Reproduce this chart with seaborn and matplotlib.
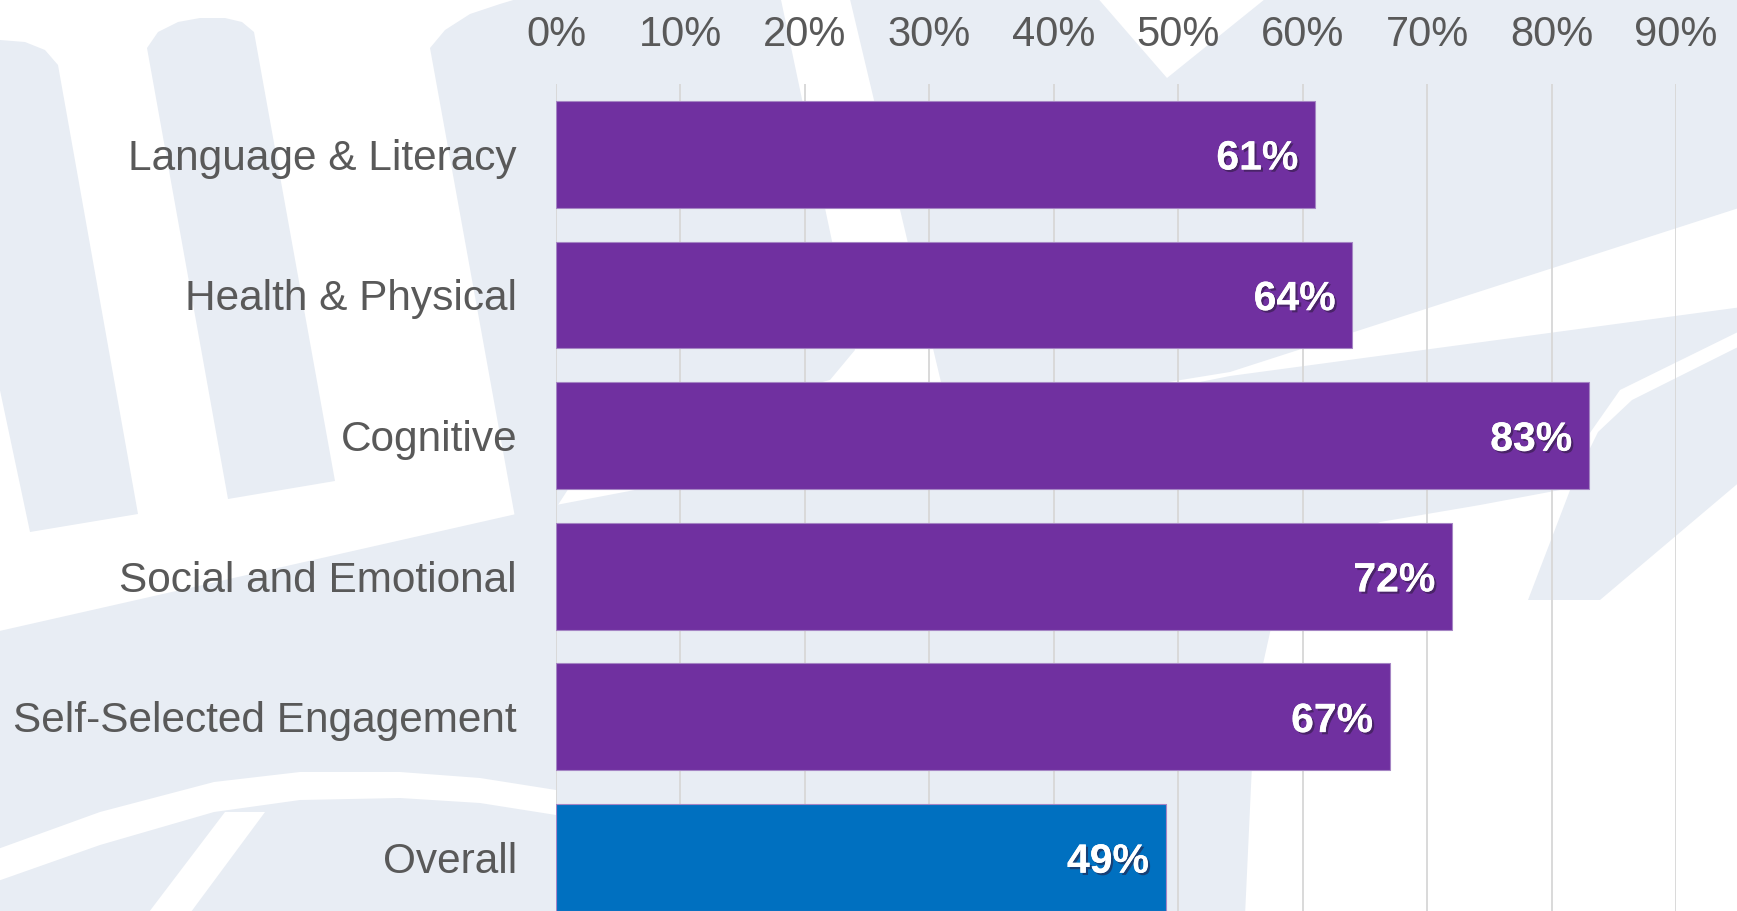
import matplotlib
matplotlib.use("Agg")
import matplotlib.pyplot as plt
import matplotlib.patheffects as pe
from matplotlib.patches import Polygon
from matplotlib.ticker import PercentFormatter, FixedLocator
import pandas as pd
import seaborn as sns

# ---- data -------------------------------------------------------------
categories = [
    "Language & Literacy",
    "Health & Physical",
    "Cognitive",
    "Social and Emotional",
    "Self-Selected Engagement",
    "Overall",
]
shares = [0.61, 0.64, 0.83, 0.72, 0.67, 0.49]
bar_colors = ["#7030A0", "#7030A0", "#7030A0", "#7030A0", "#7030A0", "#0070C0"]
x_ticks = [0.0, 0.1, 0.2, 0.3, 0.4, 0.5, 0.6, 0.7, 0.8, 0.9]

df = pd.DataFrame({"domain": categories, "share": shares})

# ---- style ------------------------------------------------------------
sns.set_theme(style="white")
plt.rcParams["font.family"] = ["Liberation Sans", "DejaVu Sans"]
TEXT = "#595959"
GRID = "#D9D9D9"
WASH = "#E8EDF4"

W, H = 1737, 911
fig = plt.figure(figsize=(W / 100, H / 100), dpi=100)
fig.patch.set_facecolor("white")


def to_fig(pts):
    return [(x / W, 1 - y / H) for x, y in pts]


def wash(pts, color=WASH, z=-2):
    fig.add_artist(Polygon(to_fig(pts), closed=True, facecolor=color,
                           edgecolor="none", transform=fig.transFigure,
                           zorder=z))


# faint logo watermark behind the chart
wash([(-70, 60), (-30, 45), (0, 40), (25, 42), (45, 50), (58, 65),
      (138, 514), (30, 532)])
wash([(147, 48), (158, 32), (178, 22), (200, 18), (225, 18), (242, 22),
      (254, 32), (335, 481), (228, 499)])
wash([(430, 48), (445, 30), (470, 14), (500, 4), (530, -5), (780, -5),
      (855, 350), (830, 380), (600, 440), (556, 508), (520, 545)])
wash([(849, -5), (1095, -5), (1167, 78), (1270, -5), (1742, -5),
      (1742, 207), (1230, 372), (1150, 385), (950, 420)])
wash([(-5, 632), (556, 505), (1150, 392), (1230, 376), (1742, 307),
      (1742, 330), (1620, 390), (1585, 440), (1560, 490), (1480, 505),
      (1380, 522), (1320, 550), (1275, 610), (1255, 700), (1245, 916),
      (-5, 916)])
wash([(1742, 345), (1742, 480), (1600, 600), (1528, 600), (1572, 485),
      (1598, 432), (1632, 400)])
# white strokes cutting through the lower-left of the watermark
wash([(-5, 850), (100, 812), (214, 782), (300, 772), (400, 772), (480, 778),
      (556, 790), (556, 815), (480, 803), (400, 798), (300, 800),
      (214, 812), (100, 845), (-5, 882)], color="white", z=-1)
wash([(225, 812), (265, 812), (188, 916), (146, 916)], color="white", z=-1)

# ---- chart ------------------------------------------------------------
ax = fig.add_axes([556 / W, 0.0, (1676 - 556) / W, 1 - 84 / H])
ax.set_facecolor("none")

sns.barplot(data=df, x="share", y="domain", hue="domain",
            palette=bar_colors, orient="h", width=0.76, legend=False,
            saturation=1, ax=ax, edgecolor="#A585C4", linewidth=0.8)

ax.set_xlim(0, 0.9)
ax.set_ylim(5.38, -0.5)
ax.xaxis.set_major_locator(FixedLocator(x_ticks))
ax.xaxis.set_major_formatter(PercentFormatter(1.0, decimals=0))
ax.xaxis.tick_top()
ax.set_xlabel("")
ax.set_ylabel("")
ax.grid(axis="x", color=GRID, linewidth=1.4)
ax.grid(axis="y", visible=False)
ax.set_axisbelow(True)
for s in ax.spines.values():
    s.set_visible(False)

ax.tick_params(axis="x", which="both", length=0, pad=21,
               labelsize=30, labelcolor=TEXT)
ax.tick_params(axis="y", which="both", length=0, pad=28,
               labelsize=30.5, labelcolor=TEXT)

shadow = [pe.withSimplePatchShadow(offset=(1.6, -1.6),
                                   shadow_rgbFace="#2A1A3A", alpha=0.55),
          pe.Normal()]
for i, v in enumerate(shares):
    ax.annotate(f"{v:.0%}", xy=(v, i), xytext=(-12, -3),
                textcoords="offset points", ha="right", va="center",
                fontsize=29.5, fontweight="bold", color="white",
                path_effects=shadow)

fig.savefig("out.png", dpi=100, facecolor="white")
